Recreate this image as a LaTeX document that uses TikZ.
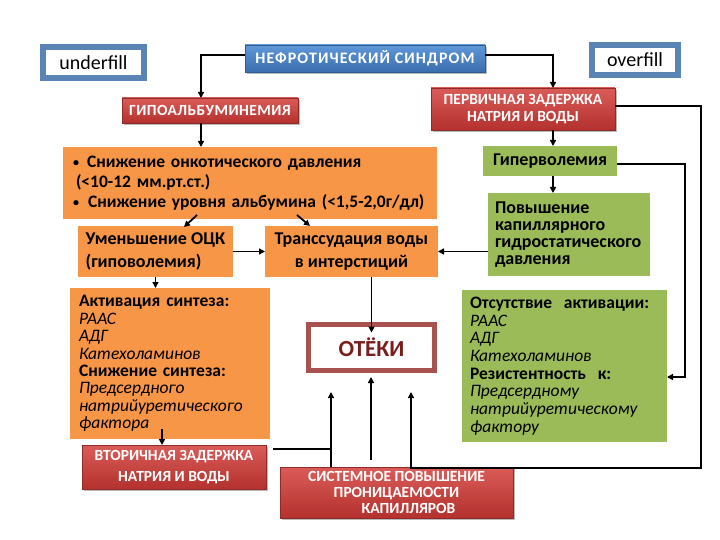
\documentclass[tikz,border=0pt]{standalone}
\usepackage{fontspec}
\setmainfont{Carlito}
\newfontfamily\wideCaps[LetterSpace=7]{Carlito}
\newfontfamily\semiCaps[LetterSpace=3]{Carlito}
\usetikzlibrary{arrows.meta,shadows,calc}
\definecolor{orng}{HTML}{F79646}
\definecolor{grn}{HTML}{9BBB59}
\definecolor{redT}{HTML}{DA5C58}
\definecolor{redB}{HTML}{B3312E}
\definecolor{redD}{HTML}{8E2A27}
\definecolor{bluT}{HTML}{5E97D8}
\definecolor{bluB}{HTML}{3B6EAE}
\definecolor{bluD}{HTML}{2F5A8E}
\definecolor{frame}{HTML}{5A84B4}
\definecolor{otekB}{HTML}{A8524F}
\definecolor{otekT}{HTML}{7A1E1C}
\newcommand\myfs[2]{\fontsize{#1}{#2}\selectfont}
\newcommand\smbul{\raisebox{1pt}{\myfs{12}{12}•}}
\tikzset{
  base/.style={inner sep=0pt, outer sep=0pt},
  redbox/.style={base, top color=redT, bottom color=redB, draw=redD, line width=0.5pt,
    text=white, font=\bfseries\myfs{15.5}{17}, align=center,
    drop shadow={shadow xshift=1.5pt, shadow yshift=-2pt, fill=black!45, opacity=0.6}},
  bluebox/.style={base, top color=bluT, bottom color=bluB, draw=bluD, line width=0.5pt,
    text=white, font=\wideCaps\bfseries\myfs{16}{18}, align=center,
    drop shadow={shadow xshift=1.5pt, shadow yshift=-2pt, fill=black!45, opacity=0.6}},
  framebox/.style={base, draw=frame, line width=6pt, fill=white, font=\myfs{20}{22}},
  orngbox/.style={base, fill=orng, font=\bfseries\myfs{17.5}{20}, align=left},
  grnbox/.style={base, fill=grn, font=\bfseries\myfs{18}{17}, align=left},
  otekbox/.style={base, draw=otekB, line width=5pt, fill=white, text=otekT, font=\bfseries\myfs{23}{26}},
  arr/.style={line width=1.8pt, -{Triangle[length=6pt,width=6pt]}},
  ln/.style={line width=1.8pt}
}
\begin{document}
\begin{tikzpicture}[x=1pt,y=-1pt]
\useasboundingbox[fill=white] (0,0) rectangle (720,540);

\node[framebox, minimum width=101pt, minimum height=31pt] (und) at (93.5,62.5) {underfill};
\node[framebox, minimum width=86pt, minimum height=30pt] (ovr) at (635,60) {overfill};
\node[bluebox, minimum width=240pt, minimum height=27pt] (neph) at (365,58.5) {НЕФРОТИЧЕСКИЙ СИНДРОМ};

\node[redbox, minimum width=176pt, minimum height=25pt, font=\semiCaps\bfseries\myfs{15.5}{17}] (hypo) at (210,110.5) {ГИПОАЛЬБУМИНЕМИЯ};
\node[redbox, minimum width=184pt, minimum height=42pt] (perv) at (523,109) {ПЕРВИЧНАЯ ЗАДЕРЖКА\\НАТРИЯ И ВОДЫ};

\node[orngbox, minimum width=374pt, minimum height=72pt, inner xsep=10pt, text width=354pt] (sniz) at (250,183)
  {\makebox[14pt][l]{\smbul}Снижение онкотического давления\\
   \hspace*{3pt}(<10-12 мм.рт.ст.)\\
   \makebox[15pt][l]{\smbul}Снижение уровня альбумина (<1,5-2,0г/дл)};

\node[orngbox, minimum width=155pt, minimum height=51pt, font=\bfseries\myfs{18}{23}] (umen) at (155.5,251.5)
  {Уменьшение ОЦК\\(гиповолемия)};
\node[orngbox, minimum width=173pt, minimum height=51pt, align=center, font=\bfseries\myfs{18}{23}] (trans) at (351.5,251.5)
  {Транссудация воды\\в интерстиций};

\node[grnbox, minimum width=134pt, minimum height=30pt, align=center] (hyper) at (550,161) {Гиперволемия};
\node[grnbox, minimum width=162pt, minimum height=83pt, inner xsep=7pt, text width=148pt] (povysh) at (569,234.5)
  {Повышение\\капиллярного\\гидростатического\\давления};

\node[orngbox, minimum width=200pt, minimum height=151pt, inner xsep=9pt, text width=182pt, font=\myfs{17.5}{17.4}] (akt) at (170,363.5)
  {\textbf{Активация синтеза:}\\
   \textit{РААС}\\
   \textit{АДГ}\\
   \textit{Катехоламинов}\\
   \textbf{Снижение синтеза:}\\
   \textit{Предсердного}\\
   \textit{натрийуретического}\\
   \textit{фактора}};

\node[grnbox, minimum width=205pt, minimum height=152pt, inner xsep=8pt, text width=189pt, font=\myfs{17.5}{17.7}] (otsut) at (564.5,366)
  {\textbf{Отсутствие\ \ активации:}\\
   \textit{РААС}\\
   \textit{АДГ}\\
   \textit{Катехоламинов}\\
   \textbf{Резистентность\ \ к:}\\
   \textit{Предсердному}\\
   \textit{натрийуретическому}\\
   \textit{фактору}};

\node[otekbox, minimum width=126pt, minimum height=46pt] (otek) at (371.5,347.5) {ОТЁКИ};

\node[redbox, minimum width=184pt, minimum height=44pt, font=\bfseries\myfs{15.5}{20.5}] (vtor) at (174,467) {ВТОРИЧНАЯ ЗАДЕРЖКА\\НАТРИЯ И ВОДЫ};
\node[redbox, minimum width=233pt, minimum height=51pt, font=\bfseries\myfs{15.5}{16}] (sist) at (396.5,492.5)
  {СИСТЕМНОЕ ПОВЫШЕНИЕ\\ПРОНИЦАЕМОСТИ\\\hspace*{24pt}КАПИЛЛЯРОВ};

% helper coordinates
\coordinate (tL) at (331,392);
\coordinate (tM) at (371,377);
\coordinate (tR) at (411,392);
\coordinate (jL) at (331,449);
\coordinate (rc) at (701,468);
\coordinate (hb) at (685,377);

% connectors
\draw[arr] ([yshift=3.5pt]neph.west) -| ([xshift=-9pt]hypo.north);
\draw[arr] ([yshift=3.5pt]neph.east) -| ([xshift=30pt]perv.north);
\draw[arr] ([xshift=-9pt]hypo.south) -- ([xshift=-9pt]hypo.south |- sniz.north);
\draw[arr] ($(sniz.south)+(-53,-4)$) -- ($(umen.north)+(28.5,1)$);
\draw[arr] ($(sniz.south)+(47,-4)$) -- ($(trans.north)+(-41.5,0)$);
\draw[arr] (umen.east) -- (trans.west);
\draw[arr] (povysh.west |- trans.east) -- (trans.east);
\draw[arr] ([xshift=30pt]perv.south) -- ([xshift=30pt]perv.south |- hyper.north);
\draw[arr] ([xshift=3pt]hyper.south) -- ([xshift=3pt]hyper.south |- povysh.north);
\draw[arr] ([yshift=-3pt]hyper.east) -| (hb) -- (hb -| otsut.east);
\draw[arr] ([yshift=3pt]perv.east) -| (rc) -| (tR);
\draw[arr] (umen.south) -- (umen.south |- akt.north);
\draw[arr] ([xshift=-8pt,yshift=10pt]akt.south) -- ([xshift=-8pt]akt.south |- vtor.north);
\draw[arr] (trans.south -| otek.north) -- ([yshift=-8pt]otek.north);
\draw[ln] ([xshift=7pt]vtor.east |- jL) -- (jL);
\draw[arr] (tL |- sist.north) -- (tL);
\draw[arr] ([yshift=7pt]sist.north -| tM) -- (tM);
\end{tikzpicture}
\end{document}
